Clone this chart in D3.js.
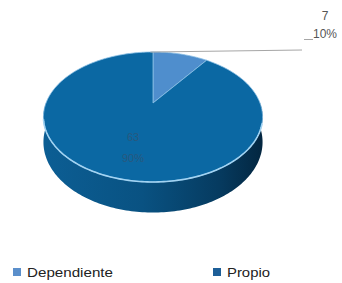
<!DOCTYPE html>
<html>
<head>
<meta charset="utf-8">
<script src="https://cdn.jsdelivr.net/npm/d3@7"></script>
<style>
  body { margin: 0; background: #fff; }
  svg { display: block; }
</style>
</head>
<body>
<div id="chart"></div>
<script>
// data
var categories = ["Dependiente", "Propio"];
var values = [7, 63];
var percents = ["10%", "90%"];
var colors = ["#4f8ecd", "#0b68a3"];
var legendColors = ["#5b8fcb", "#1d5f98"];

var width = 342, height = 283;

var svg = d3.select("#chart").append("svg")
    .attr("width", width)
    .attr("height", height);

var defs = svg.append("defs");
var grad = defs.append("linearGradient")
    .attr("id", "side")
    .attr("gradientUnits", "userSpaceOnUse")
    .attr("x1", 43).attr("x2", 263).attr("y1", 0).attr("y2", 0);
grad.append("stop").attr("offset", "0%").attr("stop-color", "#0c5e94");
grad.append("stop").attr("offset", "45%").attr("stop-color", "#095282");
grad.append("stop").attr("offset", "80%").attr("stop-color", "#063b60");
grad.append("stop").attr("offset", "100%").attr("stop-color", "#032640");

// perspective projection of the pie disc
var cx = 153, cy = 103, a = 107, b = 62, p = 0.215, depth = 24;

function proj(theta, drop) {
    var u = Math.sin(theta), v = -Math.cos(theta);
    var f = 1 / (1 - p * v);
    return [cx + a * u * f, cy + b * v * f + (drop ? depth * f : 0)];
}

function arcPoints(t0, t1, drop) {
    var n = Math.max(2, Math.ceil(Math.abs(t1 - t0) / 0.02));
    return d3.range(n + 1).map(function (i) {
        return proj(t0 + (t1 - t0) * i / n, drop);
    });
}

var pie = d3.pie().sort(null)(values);
var line = d3.line();

// side wall (front half)
var s0 = Math.PI * 0.5, s1 = Math.PI * 1.5;
var sidePts = arcPoints(s0, s1, false).concat(arcPoints(s1, s0, true));
svg.append("path")
    .attr("d", line(sidePts) + "Z")
    .attr("fill", "url(#side)");

// top face slices
svg.selectAll(".slice")
    .data(pie)
    .enter().append("path")
    .attr("class", "slice")
    .attr("d", function (d) {
        return line([[cx, cy]].concat(arcPoints(d.startAngle, d.endAngle, false))) + "Z";
    })
    .attr("fill", function (d, i) { return colors[i]; })
    .attr("stroke", "#8cc0e6")
    .attr("stroke-width", 0.8)
    .attr("stroke-linejoin", "round");

// rim highlight on the front edge
svg.append("path")
    .attr("d", line(arcPoints(Math.PI * 0.6, Math.PI * 1.42, false)))
    .attr("fill", "none")
    .attr("stroke", "#a2d3f2")
    .attr("stroke-width", 1.6);

// inner label (Propio)
svg.append("text")
    .attr("x", 133).attr("y", 141)
    .attr("text-anchor", "middle")
    .attr("font-family", "Liberation Sans, Arial, sans-serif")
    .attr("font-size", 11)
    .attr("fill", "#28587e")
    .text(values[1]);
svg.append("text")
    .attr("x", 133).attr("y", 162)
    .attr("text-anchor", "middle")
    .attr("font-family", "Liberation Sans, Arial, sans-serif")
    .attr("font-size", 11)
    .attr("fill", "#28587e")
    .text(percents[1]);

// outside label (Dependiente) with leader line
var mid = (pie[0].startAngle + pie[0].endAngle) / 2;
var lp = proj(mid, false);
svg.append("path")
    .attr("d", "M" + (lp[0] - 30) + "," + (lp[1] - 2) + "L302,50M304,39.5L313,39.5")
    .attr("fill", "none")
    .attr("stroke", "#a6a6a6")
    .attr("stroke-width", 1);
svg.append("text")
    .attr("x", 325).attr("y", 20)
    .attr("text-anchor", "middle")
    .attr("font-family", "Liberation Sans, Arial, sans-serif")
    .attr("font-size", 12)
    .attr("fill", "#555")
    .text(values[0]);
svg.append("text")
    .attr("x", 325).attr("y", 38)
    .attr("text-anchor", "middle")
    .attr("font-family", "Liberation Sans, Arial, sans-serif")
    .attr("font-size", 12)
    .attr("fill", "#555")
    .text(percents[0]);

// legend
var legendX = [13, 213];
var legendW = [86, 43];
var legend = svg.selectAll(".legend")
    .data(categories)
    .enter().append("g")
    .attr("class", "legend")
    .attr("transform", function (d, i) { return "translate(" + legendX[i] + ",268)"; });
legend.append("rect")
    .attr("width", 8).attr("height", 8)
    .attr("fill", function (d, i) { return legendColors[i]; });
legend.append("text")
    .attr("x", 14).attr("y", 9)
    .attr("font-family", "Liberation Sans, Arial, sans-serif")
    .attr("font-size", 12.5)
    .attr("fill", "#222")
    .attr("textLength", function (d, i) { return legendW[i]; })
    .attr("lengthAdjust", "spacingAndGlyphs")
    .text(function (d) { return d; });
</script>
</body>
</html>
